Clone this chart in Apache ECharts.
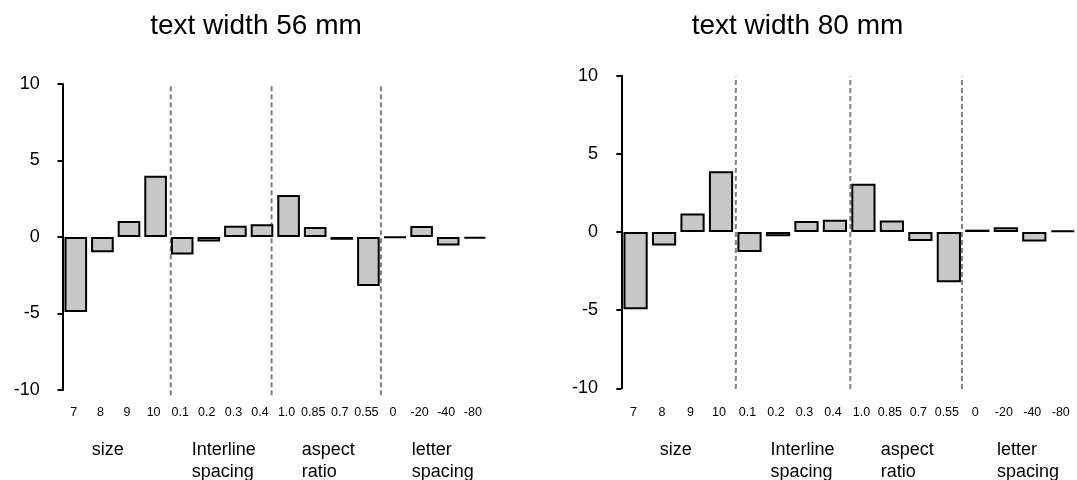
<!DOCTYPE html>
<html>
<head>
<meta charset="utf-8">
<script src="https://cdn.jsdelivr.net/npm/echarts@6/dist/echarts.min.js"></script>
<style>
html,body{margin:0;padding:0;background:#fff;}
#chart{width:1077px;height:480px;}
</style>
</head>
<body>
<div id="chart"></div>
<script>
// ---- data ----
const categories = ['7','8','9','10','0.1','0.2','0.3','0.4','1.0','0.85','0.7','0.55','0','-20','-40','-80'];
const valuesLeft  = [-4.9, -1.0, 1.05, 4.0, -1.15, -0.3, 0.74, 0.84, 2.75, 0.65, -0.18, -3.2, -0.04, 0.72, -0.55, -0.1];
const valuesRight = [-4.95, -0.87, 1.18, 3.89, -1.28, -0.27, 0.7, 0.79, 3.08, 0.73, -0.58, -3.22, 0.15, 0.3, -0.6, 0.08];
const titles = ['text width 56 mm', 'text width 80 mm'];
const groupNames = ['size', 'Interline\nspacing', 'aspect\nratio', 'letter\nspacing'];
const yMin = -10, yMax = 10, yStep = 5;

// ---- layout ----
const FONT = "'Liberation Sans', Arial, sans-serif";
const panels = [
  {grid:{left:62.5, top:84, width:425.6, height:306}, axisOffset:15.8, labelMargin:16,
   sep:[4.07, 7.86, 11.97], sepY:[-10.35, 10], groupAt:[1.10, 4.86, 8.99, 13.13], titleX:256},
  {grid:{left:621.35, top:75.7, width:459.2, height:312.6}, axisOffset:16.35, labelMargin:18,
   sep:[4.02, 8.04, 11.96], sepY:[-10.05, 9.95], groupAt:[1.35, 5.24, 9.11, 13.19], titleX:797.5}
];
const valuesByPanel = [valuesLeft, valuesRight];

const chart = echarts.init(document.getElementById('chart'), null, {renderer:'canvas'});

const grid = [], xAxis = [], yAxis = [], series = [];
panels.forEach((p, i) => {
  grid.push(Object.assign({containLabel:false}, p.grid));
  xAxis.push({
    type:'category', gridIndex:i, data:categories,
    axisLine:{show:false}, axisTick:{show:false}, splitLine:{show:false},
    axisLabel:{fontSize:12.5, color:'#000', fontFamily:FONT, margin:p.labelMargin, interval:0, padding:[0,4,0,0]}
  });
  yAxis.push({
    type:'value', gridIndex:i, min:yMin, max:yMax, interval:yStep, offset:p.axisOffset,
    axisLine:{show:true, lineStyle:{color:'#000', width:2}},
    axisTick:{show:true, inside:false, length:5, lineStyle:{color:'#000', width:2}},
    axisLabel:{fontSize:18, color:'#000', fontFamily:FONT, margin:7},
    splitLine:{show:false}
  });
});
// hidden value x axes spanning the category bands (0..16) for separators and group labels
panels.forEach((p, i) => {
  xAxis.push({type:'value', gridIndex:i, min:0, max:categories.length, show:false});
});

panels.forEach((p, i) => {
  series.push({
    type:'bar', xAxisIndex:i, yAxisIndex:i, data:valuesByPanel[i],
    barWidth:'85%', animation:false, silent:true,
    itemStyle:{color:'#c8c8c8', borderColor:'#000', borderWidth:2}
  });
  p.sep.forEach(s => {
    series.push({
      type:'line', xAxisIndex:panels.length + i, yAxisIndex:i,
      data:[[s, p.sepY[0]], [s, p.sepY[1]]], symbol:'none', clip:false,
      animation:false, silent:true, z:1,
      lineStyle:{color:'#808080', width:2, type:[5,3]}
    });
  });
});

chart.setOption({
  backgroundColor:'#fff', animation:false,
  grid, xAxis, yAxis, series
});

// titles and group labels as text positioned from the axes
const graphic = [];
panels.forEach((p, i) => {
  graphic.push({
    type:'text', x:p.titleX, y:26,
    style:{text:titles[i], font:'28px ' + FONT, fill:'#000', textAlign:'center', textVerticalAlign:'middle'}
  });
  groupNames.forEach((g, k) => {
    const px = chart.convertToPixel({xAxisIndex:panels.length + i}, p.groupAt[k]);
    graphic.push({
      type:'text', x:px, y:439,
      style:{text:g, font:'18px ' + FONT, lineHeight:22, fill:'#000', textAlign:'left', textVerticalAlign:'top'}
    });
  });
});
chart.setOption({graphic});
</script>
</body>
</html>
